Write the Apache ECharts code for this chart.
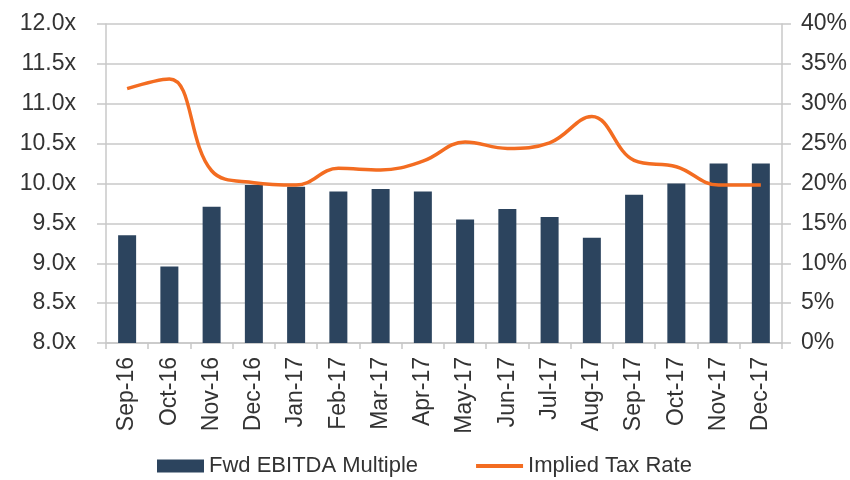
<!DOCTYPE html>
<html>
<head>
<meta charset="utf-8">
<script src="https://cdn.jsdelivr.net/npm/echarts@6/dist/echarts.min.js"></script>
<style>
  html, body { margin: 0; padding: 0; background: #fff; }
  #chart { width: 850px; height: 480px; }
</style>
</head>
<body>
<div id="chart"></div>
<script>
// months on the x axis
var months = ['Sep-16', 'Oct-16', 'Nov-16', 'Dec-16', 'Jan-17', 'Feb-17', 'Mar-17', 'Apr-17',
  'May-17', 'Jun-17', 'Jul-17', 'Aug-17', 'Sep-17', 'Oct-17', 'Nov-17', 'Dec-17'];
// bars, left axis (x multiple)
var ebitdaMultiple = [9.35, 8.96, 9.71, 9.98, 9.96, 9.90, 9.93, 9.90,
  9.55, 9.68, 9.58, 9.32, 9.86, 10.0, 10.25, 10.25];
// line, right axis (%)
var taxRate = [31.9, 33.1, 21.6, 20.1, 19.8, 21.9, 21.7, 22.8,
  25.2, 24.4, 25.1, 28.4, 22.9, 22.1, 19.8, 19.8];

var textColor = '#333333';
var gridColor = '#c8c8c8';
var font = 'Liberation Sans';

var chart = echarts.init(document.getElementById('chart'));
var option = {
  animation: false,
  grid: { left: 106, right: 68, top: 24, bottom: 137 },
  legend: {
    top: 455,
    left: 157,
    itemWidth: 47,
    itemHeight: 13,
    itemGap: 58,
    padding: 0,
    textStyle: { color: textColor, fontFamily: font, fontSize: 22 },
    data: [
      { name: 'Fwd EBITDA Multiple', icon: 'rect' },
      { name: 'Implied Tax Rate', icon: 'path://M0,0L48,0L48,4L0,4Z' }
    ]
  },
  xAxis: {
    type: 'category',
    data: months,
    axisLine: { lineStyle: { color: gridColor, width: 1.5 } },
    axisTick: { show: true, length: 6, lineStyle: { color: gridColor, width: 1.5 } },
    axisLabel: {
      rotate: 90,
      margin: 14,
      color: textColor,
      fontFamily: font,
      fontSize: 23
    }
  },
  yAxis: [
    {
      type: 'value',
      min: 8,
      max: 12,
      interval: 0.5,
      axisLine: { show: true, lineStyle: { color: gridColor, width: 1.5 } },
      axisTick: { show: true, length: 9, lineStyle: { color: gridColor, width: 1.5 } },
      splitLine: { lineStyle: { color: gridColor, width: 1.5 } },
      axisLabel: {
        margin: 30,
        color: textColor,
        fontFamily: font,
        fontSize: 23,
        formatter: function (v) { return v.toFixed(1) + 'x'; }
      }
    },
    {
      type: 'value',
      min: 0,
      max: 40,
      interval: 5,
      axisLine: { show: true, lineStyle: { color: gridColor, width: 1.5 } },
      axisTick: { show: true, length: 9, lineStyle: { color: gridColor, width: 1.5 } },
      splitLine: { show: false },
      axisLabel: {
        margin: 19,
        color: textColor,
        fontFamily: font,
        fontSize: 23,
        formatter: '{value}%'
      }
    }
  ],
  series: [
    {
      name: 'Fwd EBITDA Multiple',
      type: 'bar',
      data: ebitdaMultiple,
      barWidth: 18,
      itemStyle: { color: '#2c445e' }
    },
    {
      name: 'Implied Tax Rate',
      type: 'line',
      yAxisIndex: 1,
      data: taxRate,
      smooth: 0.4,
      symbol: 'none',
      lineStyle: { color: '#f36c21', width: 3.5 },
      itemStyle: { color: '#f36c21' }
    }
  ]
};
chart.setOption(option);
</script>
</body>
</html>
